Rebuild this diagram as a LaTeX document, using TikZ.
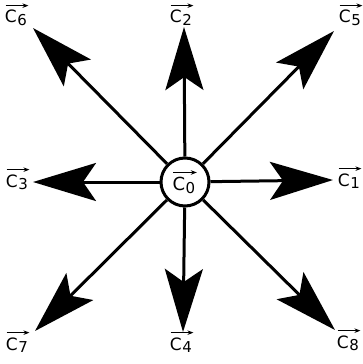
\documentclass[tikz,border=0pt]{standalone}
\usepackage{fontspec}
\setmainfont{DejaVu Sans}
\usetikzlibrary{arrows.meta}
\newlength{\labw}
\newcommand{\vlab}[1]{\setbox0\hbox{C\kern0.5pt\raisebox{-0.3ex}{\fontsize{15}{16}\selectfont #1}}\setlength{\labw}{\wd0}\vbox{\offinterlineskip\hbox{\tikz[baseline=0pt]\draw[line width=1.2pt,-{Stealth[length=6pt,width=4.5pt]}] (0pt,0pt) -- (\labw+1pt,0pt);}\kern2.5pt\box0}}
\tikzset{
  vec/.style={line width=3pt,-{Stealth[length=63pt,width=38pt,inset=13pt]}},
  lab/.style={font=\fontsize{17}{20}\selectfont,inner sep=0pt,anchor=base},
  hub/.style={circle,draw,line width=3pt,minimum size=48pt,inner sep=0pt,fill=white,font=\fontsize{18}{20}\selectfont}
}
\begin{document}
\begin{tikzpicture}[x=1pt,y=-1pt]
\useasboundingbox (0,0) rectangle (362,364);
\node[hub] (c0) at (185,182) {\vlab{0}};
\coordinate (t1) at (333,180);
\coordinate (t2) at (184,27);
\coordinate (t3) at (33,182);
\coordinate (t4) at (183,332);
\coordinate (t5) at (334,31);
\coordinate (t6) at (33,28);
\coordinate (t7) at (35,331);
\coordinate (t8) at (335,330);
\foreach \i in {1,...,8} {\draw[vec] (c0) -- (t\i);}
\node[lab] (l1) at (350,186) {\vlab{1}};
\node[lab] (l2) at (182,23) {\vlab{2}};
\node[lab] (l3) at (18,187) {\vlab{3}};
\node[lab] (l4) at (182,350) {\vlab{4}};
\node[lab] (l5) at (351,23) {\vlab{5}};
\node[lab] (l6) at (17,23) {\vlab{6}};
\node[lab] (l7) at (18,350) {\vlab{7}};
\node[lab] (l8) at (349,348) {\vlab{8}};
\end{tikzpicture}
\end{document}
